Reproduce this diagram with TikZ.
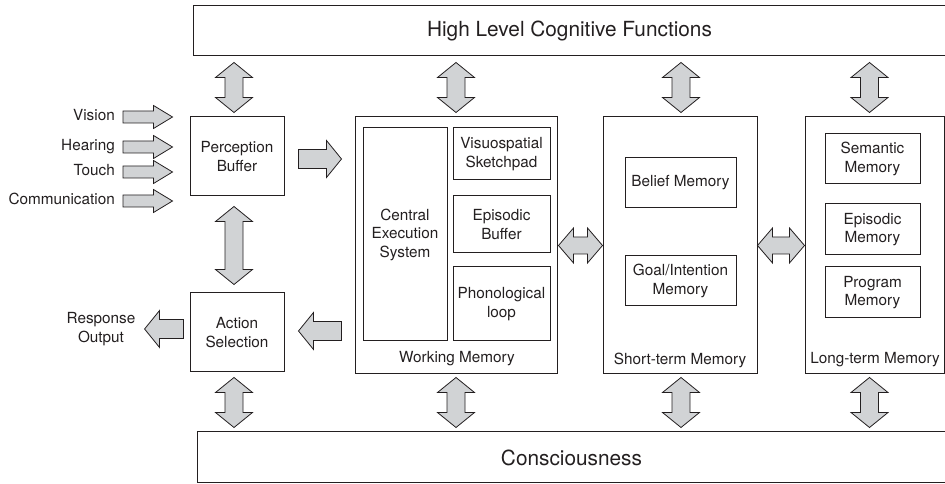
\documentclass[tikz,border=0pt]{standalone}
\usepackage{fontspec}
\setmainfont{TeX Gyre Heros}
\usetikzlibrary{calc, positioning}
\usepackage{xcolor}
\definecolor{arrow_gray}{RGB}{209, 211, 213}
\definecolor{ink_color}{RGB}{35, 31, 32}

\tikzset{
  box/.style={draw=ink_color, line width=1pt, inner sep=0pt, align=center,
    text=ink_color, font=\fontsize{15.3}{18.5}\selectfont},
  bigbox/.style={box, font=\fontsize{20.8}{24}\selectfont},
  lbl/.style={inner sep=0pt, align=center, text=ink_color,
    font=\fontsize{15.3}{18.5}\selectfont},
  blk/.style={fill=arrow_gray, draw=ink_color, line width=0.8pt, line join=miter},
}

\newcommand{\headlen}{15pt}
% double block arrow: end, end, half head, half shaft
\newcommand{\dblarrow}[4]{%
  \path ($(#1)!\headlen!(#2)$) coordinate (hA) ($(#2)!\headlen!(#1)$) coordinate (hB);
  \filldraw[blk] (#1) -- ($(hA)!#3!90:(#1)$) -- ($(hA)!#4!90:(#1)$)
    -- ($(hB)!#4!-90:(#2)$) -- ($(hB)!#3!-90:(#2)$) -- (#2)
    -- ($(hB)!#3!90:(#2)$) -- ($(hB)!#4!90:(#2)$)
    -- ($(hA)!#4!-90:(#1)$) -- ($(hA)!#3!-90:(#1)$) -- cycle;
}
% single block arrow: tail, tip, half head, half shaft
\newcommand{\onearrow}[4]{%
  \path ($(#2)!\headlen!(#1)$) coordinate (hB);
  \filldraw[blk] (#2) -- ($(hB)!#3!90:(#2)$) -- ($(hB)!#4!90:(#2)$)
    -- ($(#1)!#4!90:(#2)$) -- ($(#1)!#4!-90:(#2)$)
    -- ($(hB)!#4!-90:(#2)$) -- ($(hB)!#3!-90:(#2)$) -- cycle;
}

\begin{document}
\begin{tikzpicture}[x=1pt, y=1pt]

      \useasboundingbox (0,0) rectangle (945,484);

      % 1. Bandas de arriba y abajo
      \node[bigbox, minimum width=753pt, minimum height=50pt] (hlcf) at (569.5,453)
        {High Level Cognitive Functions};
      \node[bigbox, minimum width=749pt, minimum height=51pt] (cons) at (571.5,26.5)
        {Consciousness};

      % 2. Percepcion y accion
      \node[box, minimum width=94pt, minimum height=79pt] (perc) at (237,327.5)
        {Perception\\Buffer};
      \node[box, minimum width=94pt, minimum height=79pt] (act) at (237,151.5)
        {Action\\Selection};

      % 3. Working memory
      \node[box, minimum width=202pt, minimum height=257pt] (wm) at (456,238.5) {};
      \node[box, minimum width=84pt, minimum height=213pt] (ces) at (405,249.5)
        {Central\\Execution\\System};
      \node[box, minimum width=97pt, minimum height=52pt] (vsp) at (501.5,330)
        {Visuospatial\\Sketchpad};
      \node[box, minimum width=97pt, minimum height=57pt] (epb) at (501.5,259.5)
        {Episodic\\Buffer};
      \node[box, minimum width=97pt, minimum height=74pt] (pho) at (501.5,180)
        {Phonological\\loop};
      \node[lbl] (wmlbl) at (457,125) {Working Memory};

      % 4. Short-term memory
      \node[box, minimum width=154pt, minimum height=257pt] (stm) at (680,238.5) {};
      \node[box, minimum width=111pt, minimum height=50pt] (bel) at (680.5,301)
        {Belief Memory};
      \node[box, minimum width=111pt, minimum height=50pt] (goal) at (680.5,203)
        {Goal/Intention\\Memory};
      \node[lbl] (stmlbl) at (680,124) {Short-term Memory};

      % 5. Long-term memory
      \node[box, minimum width=139pt, minimum height=257pt] (ltm) at (874.5,238.5) {};
      \node[box, minimum width=95pt, minimum height=50pt] (sem) at (872.5,325)
        {Semantic\\Memory};
      \node[box, minimum width=95pt, minimum height=51pt] (epm) at (872.5,254.5)
        {Episodic\\Memory};
      \node[box, minimum width=95pt, minimum height=51pt] (prg) at (872.5,191.5)
        {Program\\Memory};
      \node[lbl] (ltmlbl) at (875,124) {Long-term Memory};

      % 6. Flechas verticales (arriba y abajo)
      \foreach \m/\dx in {perc/-3, wm/0, stm/1, ltm/-5} {
        \coordinate (t1) at ($(\m.north)+(\dx,4)$);
        \coordinate (t2) at ($(\m.north |- hlcf.south)+(\dx,-6)$);
        \dblarrow{t1}{t2}{18.5pt}{9pt}
      }
      \foreach \m/\dx in {act/-3, wm/0, stm/1, ltm/-5} {
        \coordinate (t1) at ($(\m.south |- wm.south)+(\dx,-3)$);
        \coordinate (t2) at ($(\m.south |- cons.north)+(\dx,4)$);
        \dblarrow{t1}{t2}{18.5pt}{9pt}
      }
      \coordinate (t1) at ($(perc.south)+(-3,-10)$);
      \coordinate (t2) at ($(act.north)+(-3,8)$);
      \dblarrow{t1}{t2}{18.5pt}{9pt}

      % 7. Flechas horizontales entre memorias
      \coordinate (t1) at ($(wm.east)+(1,0)$);
      \dblarrow{t1}{stm.west}{17.5pt}{8.5pt}
      \dblarrow{stm.east}{ltm.west}{17.5pt}{8.5pt}

      \coordinate (t1) at ($(perc.east)+(14,-2.5)$);
      \coordinate (t2) at ($(wm.west |- t1)+(-13,0)$);
      \onearrow{t1}{t2}{18.5pt}{9.5pt}
      \coordinate (t1) at ($(wm.west |- act.east)+(-13,1.5)$);
      \coordinate (t2) at ($(act.east)+(14,1.5)$);
      \onearrow{t1}{t2}{18.5pt}{9.5pt}

      % 8. Entradas y salida
      \foreach \nm/\txt/\yy in {vis/Vision/367, hear/Hearing/337, touch/Touch/312, comm/Communication/283} {
        \node[lbl, anchor=east, text height=11pt, text depth=3pt] (\nm) at (115,\yy) {\txt};
        \coordinate (a1) at ($(\nm.east)+(8,0)$);
        \coordinate (a2) at ($(perc.west |- \nm.east)+(-17,0)$);
        \def\headlen{19pt}
        \onearrow{a1}{a2}{11.5pt}{6pt}
      }

      \node[lbl] (resp) at (101,155) {Response\\Output};
      \coordinate (a1) at ($(act.west |- resp.east)+(-6,0)$);
      \coordinate (a2) at ($(resp.east)+(9,0)$);
      \onearrow{a1}{a2}{18.5pt}{9.5pt}

\end{tikzpicture}
\end{document}
